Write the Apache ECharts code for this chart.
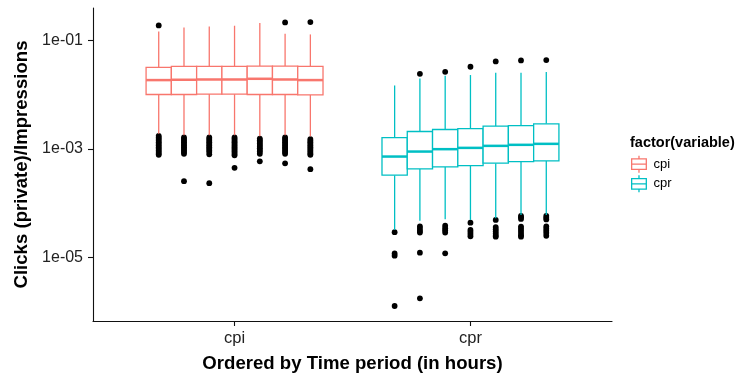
<!DOCTYPE html>
<html>
<head>
<meta charset="utf-8">
<script src="https://cdn.jsdelivr.net/npm/echarts@6/dist/echarts.min.js"></script>
<style>
html,body{margin:0;padding:0;background:#fff;}
#chart{width:738px;height:373px;}
</style>
</head>
<body>
<div id="chart"></div>
<script>
// ---- data (all values are log10 of Clicks(private)/Impressions) ----
const categories = ['cpi', 'cpr'];
const seriesNames = ['cpi', 'cpr'];
const periodCount = 7;
const yTickValues = [-5, -3, -1];
const yTickLabels = ['1e-05', '1e-03', '1e-01'];

// each row: [lower whisker, Q1, median, Q3, upper whisker], one row per time period
const cpiBoxes = [
  [-2.72, -1.999, -1.734, -1.501, -0.838],
  [-2.75, -1.999, -1.728, -1.483, -0.764],
  [-2.75, -1.992, -1.723, -1.483, -0.746],
  [-2.75, -1.992, -1.723, -1.483, -0.733],
  [-2.77, -1.999, -1.710, -1.476, -0.683],
  [-2.75, -1.999, -1.723, -1.476, -0.880],
  [-2.77, -2.005, -1.734, -1.483, -0.893]
];
const cprBoxes = [
  [-4.493, -3.485, -3.142, -2.792, -1.833],
  [-4.322, -3.369, -3.050, -2.681, -1.704],
  [-4.296, -3.332, -3.006, -2.644, -1.654],
  [-4.309, -3.308, -2.982, -2.626, -1.641],
  [-4.277, -3.264, -2.945, -2.582, -1.599],
  [-4.217, -3.234, -2.926, -2.571, -1.599],
  [-4.217, -3.221, -2.908, -2.539, -1.586]
];

// outliers per time period
const cpiOutliers = [
  [-0.727, -2.76, -2.79, -2.82, -2.85, -2.88, -2.91, -2.94, -2.97, -3.00, -3.03, -3.06, -3.09, -3.11],
  [-2.79, -2.82, -2.85, -2.88, -2.91, -2.94, -2.97, -3.00, -3.03, -3.06, -3.09, -3.595],
  [-2.79, -2.82, -2.85, -2.88, -2.91, -2.94, -2.97, -3.00, -3.03, -3.06, -3.10, -3.632],
  [-2.79, -2.82, -2.85, -2.88, -2.91, -2.94, -2.97, -3.00, -3.03, -3.06, -3.09, -3.12, -3.35],
  [-2.81, -2.84, -2.87, -2.90, -2.93, -2.96, -2.99, -3.02, -3.05, -3.09, -3.23],
  [-0.672, -2.79, -2.82, -2.85, -2.88, -2.91, -2.94, -2.97, -3.00, -3.03, -3.06, -3.09, -3.267],
  [-0.665, -2.82, -2.85, -2.88, -2.91, -2.94, -2.97, -3.00, -3.03, -3.06, -3.09, -3.11, -3.374]
];
const cprOutliers = [
  [-4.535, -4.926, -4.967, -5.894],
  [-1.618, -4.429, -4.47, -4.51, -4.54, -4.911, -5.752],
  [-1.581, -4.416, -4.46, -4.50, -4.54, -4.923],
  [-1.488, -4.359, -4.493, -4.53, -4.57, -4.609],
  [-1.391, -4.309, -4.44, -4.48, -4.52, -4.56, -4.60, -4.617],
  [-1.372, -4.235, -4.26, -4.29, -4.432, -4.47, -4.51, -4.55, -4.59, -4.617],
  [-1.365, -4.235, -4.27, -4.30, -4.43, -4.47, -4.51, -4.55, -4.60]
];

// ---- styling ----
const colors = ['#F8766D', '#00BFC4'];
const FONT = 'Liberation Sans, Arial, sans-serif';
const dodgeWidth = 0.75;
const slot = dodgeWidth / periodCount;
function dodgeX(groupIdx, p) {
  return groupIdx + 1 + (p - (periodCount - 1) / 2) * slot;
}

function boxRenderer(groupIdx) {
  const color = colors[groupIdx];
  return function (params, api) {
    const p = api.value(0);
    const x = dodgeX(groupIdx, p);
    const lo = api.coord([x, api.value(1)]);
    const q1 = api.coord([x, api.value(2)]);
    const md = api.coord([x, api.value(3)]);
    const q3 = api.coord([x, api.value(4)]);
    const hi = api.coord([x, api.value(5)]);
    const hw = api.size([slot, 0])[0] / 2;
    const cx = lo[0];
    const lineStyle = { stroke: color, lineWidth: 1.3, fill: null };
    return {
      type: 'group',
      children: [
        { type: 'line', shape: { x1: cx, y1: hi[1], x2: cx, y2: q3[1] }, style: lineStyle },
        { type: 'line', shape: { x1: cx, y1: q1[1], x2: cx, y2: lo[1] }, style: lineStyle },
        { type: 'rect', shape: { x: cx - hw, y: q3[1], width: hw * 2, height: q1[1] - q3[1] },
          style: { stroke: color, lineWidth: 1.3, fill: '#fff' } },
        { type: 'line', shape: { x1: cx - hw, y1: md[1], x2: cx + hw, y2: md[1] },
          style: { stroke: color, lineWidth: 2.5 } }
      ]
    };
  };
}

function boxData(boxes) {
  return boxes.map((b, p) => [p].concat(b));
}
function outlierData(groupIdx, outs) {
  const res = [];
  outs.forEach((list, p) => list.forEach(v => res.push([dodgeX(groupIdx, p), v])));
  return res;
}

const boxIcon = 'path://M7.5,0L7.5,3M0.6,3L14.4,3L14.4,13L0.6,13ZM0.6,8L14.4,8M7.5,13L7.5,16';

const chart = echarts.init(document.getElementById('chart'), null, { renderer: 'canvas' });
chart.setOption({
  animation: false,
  backgroundColor: '#fff',
  textStyle: { fontFamily: FONT },
  title: {
    text: 'factor(variable)',
    left: 630, top: 135, padding: 0,
    textStyle: { fontFamily: FONT, fontSize: 14.5, fontWeight: 'bold', color: '#000' }
  },
  legend: {
    orient: 'vertical',
    left: 631, top: 155, padding: 0,
    itemWidth: 15, itemHeight: 17, itemGap: 1.4,
    textStyle: { fontFamily: FONT, fontSize: 13, color: '#000', padding: [0, 0, 0, 2] },
    data: seriesNames.map((n, i) => ({
      name: n, icon: boxIcon,
      itemStyle: { color: '#fff', borderColor: colors[i], borderWidth: 1.3, opacity: 1 }
    }))
  },
  grid: { left: 93, right: 126, top: 8, bottom: 52, containLabel: false, outerBoundsMode: 'none' },
  xAxis: {
    type: 'value', min: 0.4, max: 2.6,
    name: 'Ordered by Time period (in hours)',
    nameLocation: 'middle', nameGap: 33,
    nameTextStyle: { fontFamily: FONT, fontSize: 18.6, fontWeight: 'bold', color: '#000' },
    splitLine: { show: false },
    axisLine: { show: true, onZero: false, lineStyle: { color: '#111', width: 1.1 } },
    axisTick: { show: true, length: 5, customValues: [1, 2], lineStyle: { color: '#111', width: 1.1 } },
    axisLabel: {
      customValues: [1, 2], margin: 9,
      formatter: v => categories[Math.round(v) - 1],
      fontFamily: FONT, fontSize: 16.5, color: '#222'
    }
  },
  yAxis: {
    type: 'value', min: -6.17, max: -0.4065,
    name: 'Clicks (private)/Impressions',
    nameLocation: 'middle', nameGap: 57,
    nameTextStyle: { fontFamily: FONT, fontSize: 18.6, fontWeight: 'bold', color: '#000' },
    splitLine: { show: false },
    axisLine: { show: true, onZero: false, lineStyle: { color: '#111', width: 1.1 } },
    axisTick: { show: true, length: 5, customValues: yTickValues, lineStyle: { color: '#111', width: 1.1 } },
    axisLabel: {
      customValues: yTickValues, margin: 10,
      formatter: v => yTickLabels[yTickValues.indexOf(Math.round(v))],
      fontFamily: FONT, fontSize: 16, color: '#222'
    }
  },
  series: [
    { name: 'cpi-outliers', type: 'scatter', data: outlierData(0, cpiOutliers),
      symbolSize: 5.8, itemStyle: { color: '#000', opacity: 1 }, silent: true, z: 1 },
    { name: 'cpr-outliers', type: 'scatter', data: outlierData(1, cprOutliers),
      symbolSize: 5.8, itemStyle: { color: '#000', opacity: 1 }, silent: true, z: 1 },
    { name: 'cpi', type: 'custom', renderItem: boxRenderer(0), data: boxData(cpiBoxes),
      itemStyle: { color: colors[0] }, encode: { x: 0, y: [1, 2, 3, 4, 5] }, z: 2 },
    { name: 'cpr', type: 'custom', renderItem: boxRenderer(1), data: boxData(cprBoxes),
      itemStyle: { color: colors[1] }, encode: { x: 0, y: [1, 2, 3, 4, 5] }, z: 2 }
  ]
});
</script>
</body>
</html>
